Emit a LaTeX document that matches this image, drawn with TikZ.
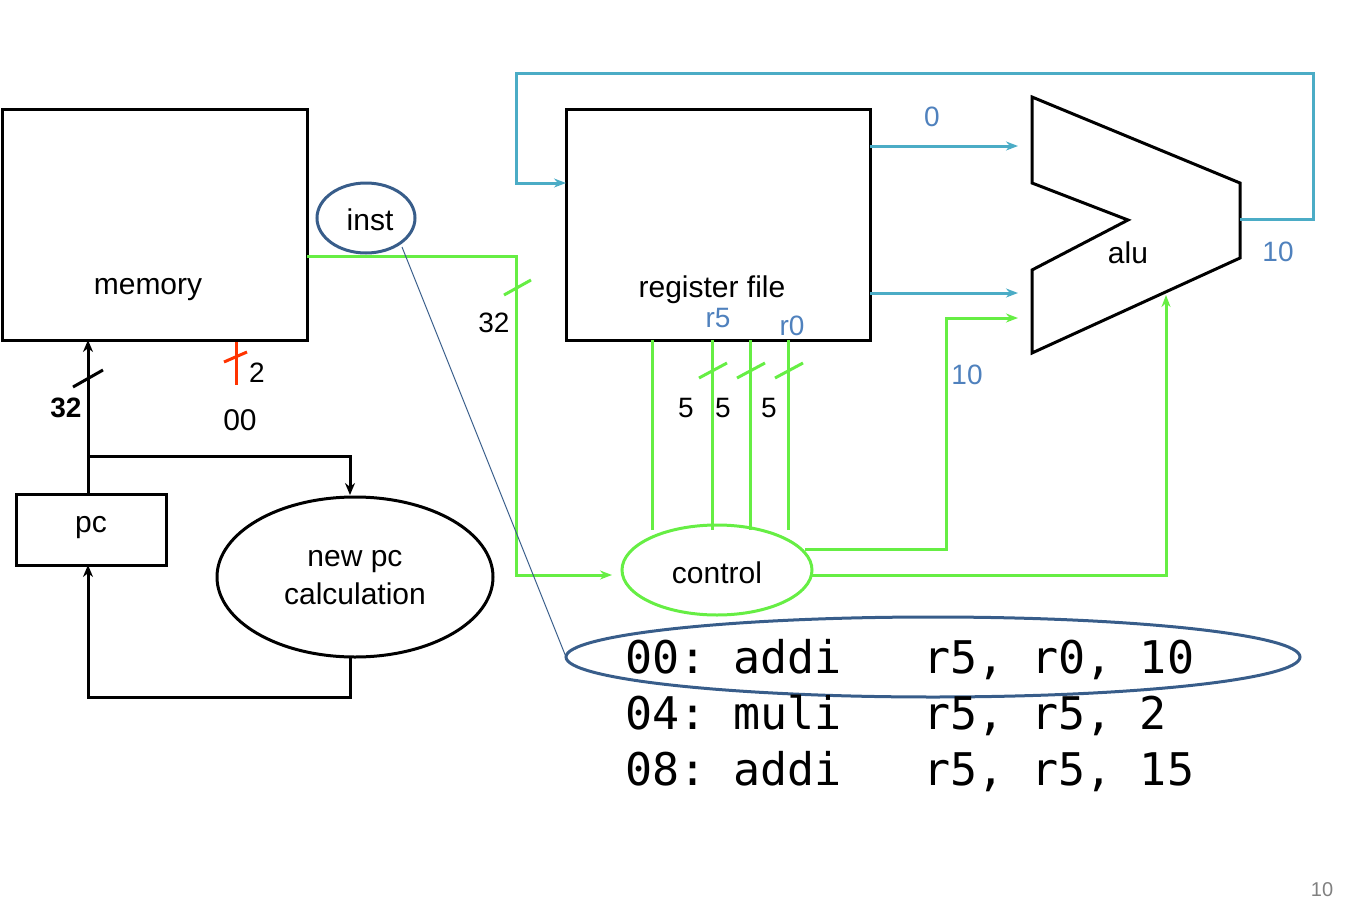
\documentclass[tikz,border=0pt]{standalone}
\usepackage{fontspec}
\setmainfont{Liberation Sans}
\newfontfamily\codefont{DejaVu Sans Mono}
\usetikzlibrary{arrows.meta}
\definecolor{grn}{HTML}{66EE44}
\definecolor{cy}{HTML}{4BACC6}
\definecolor{bl}{HTML}{4F81BD}
\definecolor{dk}{HTML}{385D8A}
\definecolor{rd}{HTML}{FF3300}
\begin{document}
\begin{tikzpicture}[x=1pt,y=-1pt,
  blk/.style={draw=black,line width=3pt},
  txt/.style={font=\fontsize{30}{34}\selectfont},
  sm/.style={font=\fontsize{28}{32}\selectfont},
  bw/.style={black,line width=3pt,-{Stealth[length=12pt,width=10pt]}},
  gw/.style={grn,line width=3pt},
  cw/.style={cy,line width=3pt},
  tip/.style={-{Stealth[length=12pt,width=9pt]}},
  slash/.style={line width=3pt}]
\useasboundingbox (0,0) rectangle (1361,921);
% boxes
\draw[blk] (2,109) rectangle (307,340);
\node[txt] (memt) at (148,290) {memory};
\draw[blk] (566,109) rectangle (870,340);
\node[txt] (rft) at (712,290) {register file};
\draw[blk] (1032,97) -- (1240,183) -- (1240,258) -- (1032,353) -- (1032,270) -- (1128,220) -- (1032,183) -- cycle;
\node[txt] (alut) at (1128,253) {alu};
\draw[blk] (16,494) rectangle (166,565);
\node[txt] (pct) at (91,528) {pc};
\draw[blk] (355,577) ellipse [x radius=138, y radius=80];
\node[txt,align=center] (npc) at (355,578) {new pc\\[4pt]calculation};
\draw[dk,line width=3pt] (366,218) ellipse [x radius=49, y radius=35];
\node[txt] (inst) at (370,220) {inst};
\draw[grn,line width=3pt] (717,570) ellipse [x radius=95, y radius=45];
\node[txt] (ctrl) at (717,573) {control};
% black wires
\draw[bw] (88,494) -- (88,340);
\draw[bw] (88,456) -- (350,456) -- (350,495);
\draw[bw] (350,657) -- (350,697) -- (88,697) -- (88,565);
\draw[slash] (73,387) -- (103,370);
\node[sm,font=\fontsize{28}{32}\selectfont\bfseries] at (66,408) {32};
\draw[rd,line width=3pt] (236,342) -- (236,385);
\draw[rd,line width=3pt] (224,362) -- (247,352);
\node[sm] at (257,373) {2};
\node[txt] at (240,420) {00};
% green
\draw[gw,tip] (307,256) -- (516,256) -- (516,575) -- (612,575);
\draw[gw] (504,295) -- (531,280);
\node[sm] at (494,323) {32};
\foreach \x in {652,712,750,788} \draw[gw] (\x,340) -- (\x,530);
\foreach \x in {712,750,788} \draw[gw] (\x-13,378) -- (\x+15,363);
\node[sm] at (686,408) {5};
\node[sm] at (723,408) {5};
\node[sm] at (769,408) {5};
\draw[gw,tip] (805,549) -- (946,549) -- (946,318) -- (1018,318);
\draw[gw,tip] (812,575) -- (1166,575) -- (1166,295);
\node[sm,bl] at (967,375) {10};
% cyan
\draw[cw,tip] (870,146) -- (1018,146);
\draw[cw,tip] (870,293) -- (1018,293);
\draw[cw,tip] (1240,219) -- (1313,219) -- (1313,73) -- (516,73) -- (516,183) -- (566,183);
\node[sm,bl] at (932,117) {0};
\node[sm,bl] at (1278,252) {10};
\node[sm,bl] at (718,318) {r5};
\node[sm,bl] at (792,326) {r0};
% code
\draw[dk,line width=1pt] (402,247) -- (566,657);
\draw[dk,line width=3pt] (933,657) ellipse [x radius=367, y radius=40];
\node[anchor=west,font=\codefont\fontsize{45}{56}\selectfont,align=left,inner sep=0] (code) at (625,716) {00:\ addi\ \ \ r5,\ r0,\ 10\\04:\ muli\ \ \ r5,\ r5,\ 2\\08:\ addi\ \ \ r5,\ r5,\ 15};
\node[gray,font=\fontsize{20}{24}\selectfont] at (1322,890) {10};
\end{tikzpicture}
\end{document}
